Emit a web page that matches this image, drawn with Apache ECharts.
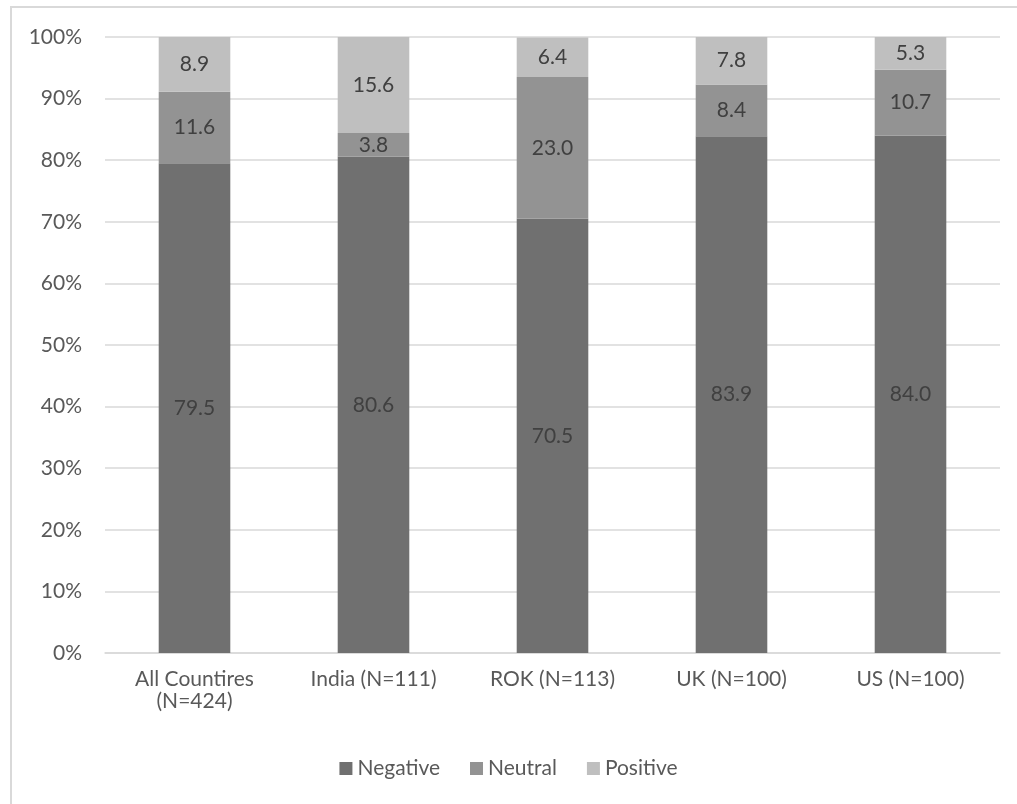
<!DOCTYPE html>
<html>
<head>
<meta charset="utf-8">
<script src="https://cdn.jsdelivr.net/npm/echarts@6/dist/echarts.min.js"></script>
<style>
  html, body { margin: 0; padding: 0; background: #fff; }
  #frame { position: absolute; left: 10px; top: 6px; width: 1020px; height: 810px;
           border-left: 2px solid #d9d9d9; border-top: 2px solid #d9d9d9; }
  #chart { position: absolute; left: 0; top: 0; width: 1017px; height: 804px; }
</style>
</head>
<body>
<div id="frame"></div>
<div id="chart"></div>
<script>
// 資料
const categories = ['All Countires\n(N=424)', 'India (N=111)', 'ROK (N=113)', 'UK (N=100)', 'US (N=100)']
const negative = [79.5, 80.6, 70.5, 83.9, 84.0]
const neutral = [11.6, 3.8, 23.0, 8.4, 10.7]
const positive = [8.9, 15.6, 6.4, 7.8, 5.3]

const font = 'Lato, "Open Sans", sans-serif'
const fs = 21

const chart = echarts.init(document.getElementById('chart'))

const makeSeries = (name, data, color) => ({
  name: name,
  type: 'bar',
  stack: 'total',
  barWidth: '40%',
  data: data,
  itemStyle: { color: color },
  label: {
    show: true,
    position: 'inside',
    color: '#404040',
    fontFamily: font,
    fontSize: fs,
    formatter: p => p.value.toFixed(1)
  },
  emphasis: { disabled: true }
})

chart.setOption({
  animation: false,
  textStyle: { fontFamily: font },
  grid: { left: 105, right: 17, top: 37, bottom: 151 },
  legend: {
    bottom: 20,
    left: 'center',
    itemWidth: 13,
    itemHeight: 13,
    itemGap: 30,
    icon: 'rect',
    textStyle: { color: '#595959', fontSize: fs, fontFamily: font },
    data: ['Negative', 'Neutral', 'Positive']
  },
  xAxis: {
    type: 'category',
    data: categories,
    axisTick: { show: false },
    axisLine: { lineStyle: { color: '#d9d9d9', width: 1.5 } },
    axisLabel: { color: '#595959', fontSize: fs, margin: 15, lineHeight: 22, fontFamily: font }
  },
  yAxis: {
    type: 'value',
    min: 0,
    max: 100,
    interval: 10,
    axisLine: { show: false },
    axisTick: { show: false },
    splitLine: { lineStyle: { color: '#d9d9d9', width: 1.5 } },
    axisLabel: { color: '#595959', fontSize: fs, margin: 23, formatter: '{value}%', fontFamily: font }
  },
  series: [
    makeSeries('Negative', negative, '#707070'),
    makeSeries('Neutral', neutral, '#939393'),
    makeSeries('Positive', positive, '#bfbfbf')
  ]
})
</script>
</body>
</html>
